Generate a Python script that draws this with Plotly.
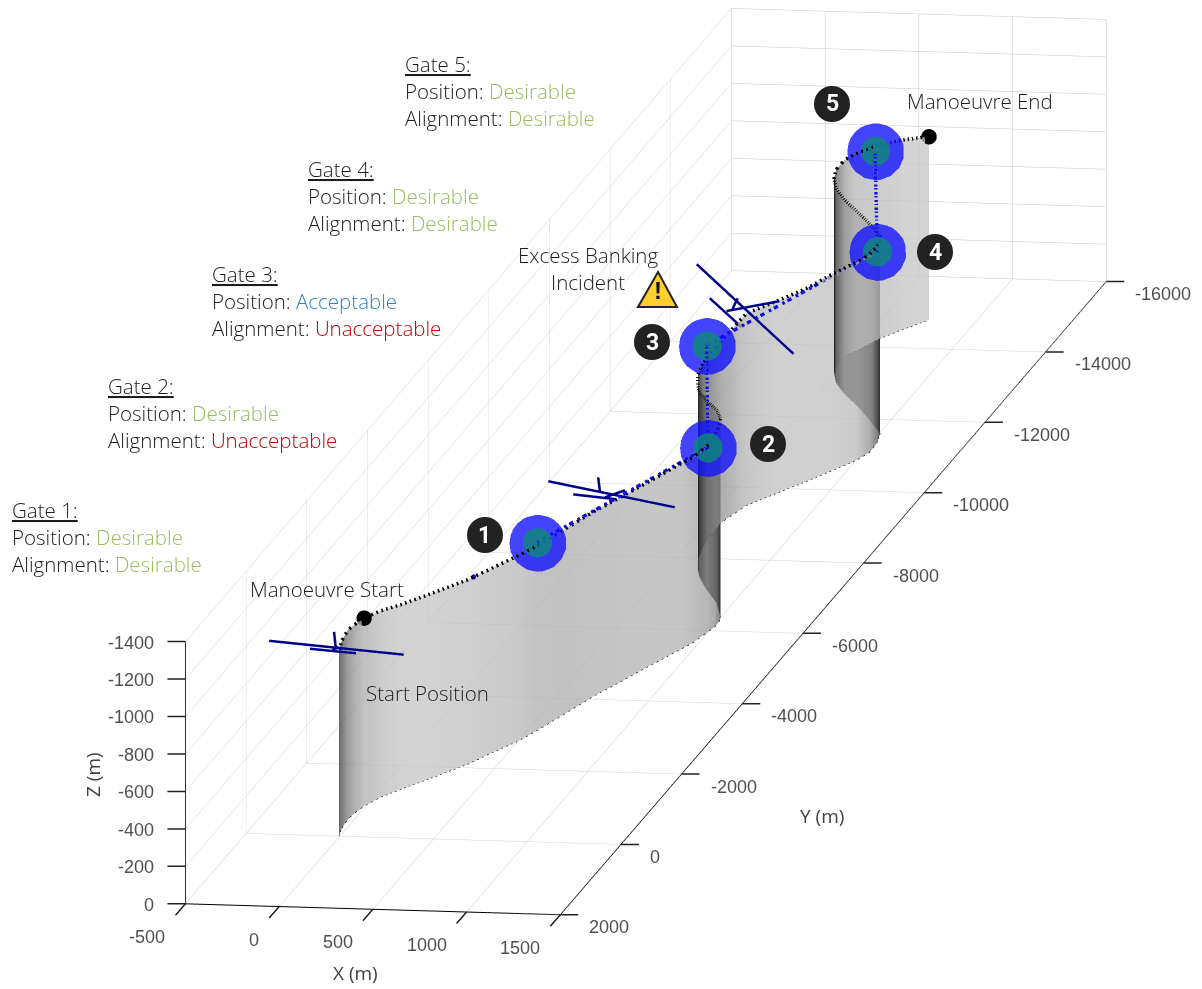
import plotly.graph_objects as go
import math

# Trajectory (metres)
path_x = [-5,-26,-35,-25,-9,38,106,223,342,413,499,553,622,691,766,848,933,969,998,1012,1010,998,914,805,715,669,624,600,581,578,632,733,836,922,1001,1034,1030,1005,914,780,639,548,493,472,474,509,575,660,749]
path_y = [-3,-226,-480,-680,-853,-1114,-1351,-1710,-2096,-2418,-2772,-3092,-3584,-4077,-4502,-4979,-5444,-5648,-5965,-6109,-6279,-6390,-6774,-7125,-7451,-7669,-7946,-8226,-8506,-9016,-9505,-9860,-10216,-10542,-10836,-11068,-11351,-11603,-11900,-12303,-12679,-12976,-13250,-13446,-13729,-13876,-14227,-14521,-14790]
path_z = [-995,-1000,-1010,-1005,-1005,-995,-985,-985,-985,-985,-990,-985,-985,-985,-985,-985,-990,-990,-995,-1020,-1050,-1058,-1030,-1010,-990,-985,-985,-985,-975,-970,-1025,-1025,-1030,-1048,-1058,-1058,-1048,-1053,-1048,-1037,-1037,-1037,-1037,-1048,-1048,-1053,-1037,-1010,-980]

gate_x = [553,998,581,1030,563]
gate_y = [-3092,-5965,-8506,-11351,-14167]
gate_z = [-1005,-985,-1040,-1021,-1016]

# single logged sample drawn in blue between the start and gate 1
sample_x = [360]
sample_y = [-2184]
sample_z = [-985]

# Aircraft glyphs: wing, tail, fin, fuselage (metres)
plane_x = [[-377,341],[-159,86],[-31,-21],[-38,-13],
           [384,1059],[517,740],[650,660],[687,793],
           [367,883],[436,606],[585,558],[526,808]]
plane_y = [[0,0],[0,0],[0,0],[0,0],
           [-4500,-4500],[-4500,-4500],[-4500,-4500],[-4500,-4500],
           [-9500,-9500],[-9500,-9500],[-9500,-9500],[-9500,-9500]]
plane_z = [[-1032,-979],[-996,-979],[-1090,-995],[-990,-1015],
           [-1061,-942],[-995,-976],[-1090,-1010],[-984,-1025],
           [-1280,-817],[-1101,-952],[-1105,-1047],[-1035,-1096]]

x_ticks = [-500,0,500,1000,1500]
y_ticks = [2000,0,-2000,-4000,-6000,-8000,-10000,-12000,-14000,-16000]
z_ticks = [0,-200,-400,-600,-800,-1000,-1200,-1400]

X_RANGE = [-500,1500]
Y_RANGE = [2000,-16000]
Z_RANGE = [0,-1400]

gates_text = [
    (12, 510, "Gate 1:", "Desirable", "#9DBB61", "Desirable", "#9DBB61"),
    (108, 386, "Gate 2:", "Desirable", "#9DBB61", "Unacceptable", "#C00000"),
    (212, 274, "Gate 3:", "Acceptable", "#2E83C6", "Unacceptable", "#C00000"),
    (308, 169, "Gate 4:", "Desirable", "#9DBB61", "Desirable", "#9DBB61"),
    (405, 64, "Gate 5:", "Desirable", "#9DBB61", "Desirable", "#9DBB61"),
]
free_text = [
    (250, 589, "Manoeuvre Start", "left"),
    (366, 693, "Start Position", "left"),
    (907, 101, "Manoeuvre End", "left"),
    (588, 255, "Excess Banking", "center"),
    (588, 282, "Incident", "center"),
]
badges = [(485,535,"1"),(768,444,"2"),(652,342,"3"),(935,252,"4"),(832,104,"5")]

W, H = 1202, 989
def px(v): return v / W
def py(v): return 1 - v / H
TEXT_FONT = "Open Sans"
TC = "#1c1c1c"

# Display coordinates: the axes grow "up" and "back" in the scene, labels carry the signed values
def dy(v): return [-a for a in v]
def dz(v): return [-a for a in v]

fig = go.Figure()

n = len(path_x)
w = []
for t in range(n):
    a, b = max(t-1, 0), min(t+1, n-1)
    ddx, ddy = path_x[b]-path_x[a], path_y[b]-path_y[a]
    ds = math.hypot(ddx, ddy) or 1
    w.append(abs(0.188*ddx - 0.0304*ddy)/ds)
gray = []
for v in w:
    a = 1 - math.exp(-0.0238/max(v, 1e-3))
    gray.append(int(255*(1-a) + 15*a))

vx = path_x + path_x
vy = dy(path_y) + dy(path_y)
vz = dz(path_z) + [0]*n
vc = [f"rgb({g},{g},{g})" for g in gray]*2
fi, fj, fk = [], [], []
for t in range(n-1):
    fi += [t, t]; fj += [t+1, n+t+1]; fk += [n+t+1, n+t]
fig.add_trace(go.Mesh3d(x=vx, y=vy, z=vz, i=fi, j=fj, k=fk, vertexcolor=vc, opacity=0.75,
                        flatshading=False, hoverinfo="skip",
                        lighting=dict(ambient=1, diffuse=0, specular=0, fresnel=0, roughness=1)))
fig.add_trace(go.Scatter3d(x=path_x, y=dy(path_y), z=[0]*n, mode="lines",
                           line=dict(color="#111111", width=1.5, dash="dot")))
fig.add_trace(go.Scatter3d(x=path_x, y=dy(path_y), z=dz(path_z), mode="lines",
                           line=dict(color="black", width=7, dash="dot")))
fig.add_trace(go.Scatter3d(x=gate_x, y=dy(gate_y), z=dz(gate_z), mode="lines",
                           line=dict(color="#1010E0", width=7, dash="dashdot")))
fig.add_trace(go.Scatter3d(x=sample_x, y=dy(sample_y), z=dz(sample_z), mode="markers",
                           marker=dict(size=3, color="#1010C0", line=dict(width=0))))
for xs, ys, zs in zip(plane_x, plane_y, plane_z):
    fig.add_trace(go.Scatter3d(x=xs, y=dy(ys), z=dz(zs), mode="lines", line=dict(color="#00008B", width=5)))
fig.add_trace(go.Scatter3d(x=gate_x, y=dy(gate_y), z=dz(gate_z), mode="markers",
                           marker=dict(size=33, color="#1010FF", opacity=0.78, line=dict(width=0))))
fig.add_trace(go.Scatter3d(x=gate_x, y=dy(gate_y), z=dz(gate_z), mode="markers",
                           marker=dict(size=17, color="#0C8A74", opacity=0.8, line=dict(width=0))))
fig.add_trace(go.Scatter3d(x=[path_x[4], path_x[-1]], y=dy([path_y[4], path_y[-1]]), z=dz([path_z[4], path_z[-1]]), mode="markers",
                           marker=dict(size=9, color="black", line=dict(width=0))))

annotations = []
def note(x, y, text, align="left", size=20.5, color=TC, family=TEXT_FONT, weight=300, **kw):
    annotations.append(dict(xref="paper", yref="paper", x=px(x), y=py(y), text=text, showarrow=False,
                            xanchor=align, yanchor="middle", font=dict(family=family, size=size, color=color, weight=weight), **kw))
for x, y, title, pos, pc, ali, ac in gates_text:
    note(x-2, y, f"<u>{title}</u>")
    note(x-2, y+27, f'Position: <span style="color:{pc}">{pos}</span>')
    note(x-2, y+54, f'Alignment: <span style="color:{ac}">{ali}</span>')
for x, y, t, al in free_text:
    note(x-2 if al == "left" else x, y, t, align=al)
note(355, 973, "X (m)", align="center", color="#404040", size=19, weight=400)
note(822, 816, "Y (m)", align="center", color="#404040", size=19, weight=400)
note(93, 775, "Z (m)", align="center", color="#404040", size=19, weight=400, textangle=-90)
shapes = []
for x, y, t in badges:
    shapes.append(dict(type="circle", xref="paper", yref="paper", x0=px(x-18), x1=px(x+18), y0=py(y+18), y1=py(y-18),
                       fillcolor="#222222", line=dict(width=0)))
    note(x, y, f"<b>{t}</b>", align="center", size=23, color="white", family="Roboto", weight=700)
shapes.append(dict(type="path", xref="paper", yref="paper",
                   path=f"M {px(658)} {py(272)} L {px(677)} {py(307)} L {px(638)} {py(307)} Z",
                   fillcolor="#FFCF2E", line=dict(color="#222222", width=2)))
note(658, 291, "<b>!</b>", align="center", size=24, color="#111111", family="Liberation Sans", weight=700)

# Ticks and tick labels are anchored to the scene's data coordinates
TICK_FONT = dict(family="Liberation Sans", size=18, color="#505050")
scene_notes = []
def tick(x, y, z, ax, ay, label, anchor, xs, ys):
    scene_notes.append(dict(x=x, y=y, z=z, text=" ", showarrow=True, arrowhead=0, arrowwidth=1.5,
                            arrowcolor="#222222", ax=ax, ay=ay, standoff=0))
    scene_notes.append(dict(x=x, y=y, z=z, text=label, showarrow=False, xanchor=anchor, yanchor="middle",
                            xshift=xs, yshift=ys, font=TICK_FONT))
for v in x_ticks:
    tick(v, -Y_RANGE[0], 0, -13, 15, str(v), "right", -18, -33)
for v in y_ticks:
    tick(X_RANGE[1], -v, 0, 21, 0, str(v), "left", 27, -12.5)
for v in z_ticks:
    tick(X_RANGE[0], -Y_RANGE[0], -v, -21, 0, str(v), "right", -29, -1)

def axis(vals, rng):
    return dict(range=rng, tickvals=vals, showticklabels=False, title=dict(text=""), showgrid=True, gridcolor="#c8c8c8", gridwidth=1,
                showline=True, linecolor="black", linewidth=2, ticks="",
                zeroline=False, showbackground=False, showspikes=False)

CENTER = dict(x=-0.0877, y=-0.0263, z=-0.0654)
fig.update_layout(
    width=W, height=H, margin=dict(l=0, r=0, t=0, b=0), paper_bgcolor="white", showlegend=False,
    annotations=annotations, shapes=shapes,
    scene=dict(
        domain=dict(x=[0, 1], y=[0, 1]),
        annotations=scene_notes,
        xaxis=axis(x_ticks, X_RANGE),
        yaxis=axis(dy(y_ticks), dy(Y_RANGE)),
        zaxis=axis(dz(z_ticks), dz(Z_RANGE)),
        aspectmode="manual", aspectratio=dict(x=0.7675, y=7.04, z=0.5395),
        camera=dict(projection=dict(type="orthographic"), up=dict(x=0, y=0, z=1),
                    center=CENTER,
                    eye=dict(x=1.85+CENTER["x"], y=-11.65+CENTER["y"], z=2.21+CENTER["z"])),
    ),
)
fig.write_html("out.html", config=dict(displayModeBar=False),
               post_script="document.body.style.margin='0';document.documentElement.style.overflow='hidden';")
